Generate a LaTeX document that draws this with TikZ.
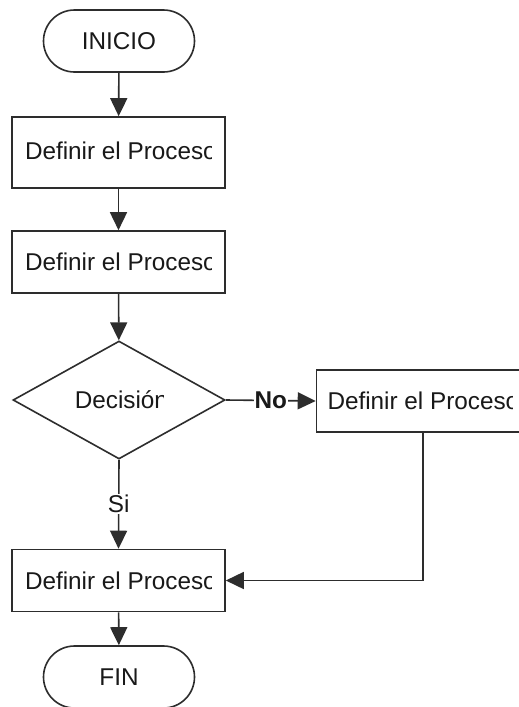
\documentclass[tikz,border=0pt]{standalone}
\usepackage{fontspec}
\setmainfont{Liberation Sans}
\usetikzlibrary{arrows.meta,shapes.geometric,shapes.misc}
\definecolor{linec}{RGB}{45,45,45}
\definecolor{txtc}{RGB}{25,25,25}
\begin{document}
\begin{tikzpicture}[x=1pt,y=-1pt,
  line width=1.6pt,
  txt/.style={font=\fontsize{24.3}{29}\selectfont, text=txtc, inner sep=0pt},
  proc/.style={draw=linec, rectangle, minimum width=213pt, minimum height=62pt, inner sep=0pt},
  term/.style={draw=linec, rounded rectangle, minimum width=151pt, minimum height=62pt, inner sep=0pt},
  dec/.style={draw=linec, diamond, aspect=1.8, minimum width=212pt, minimum height=118pt, inner sep=0pt},
  arr/.style={draw=linec, -{Triangle[length=18pt,width=17pt]}},
  lbl/.style={txt, fill=white, inner sep=1pt}
]
\clip (0,0) rectangle (519,707);
\fill[white] (0,0) rectangle (519,707);

% shapes
\node[term] (inicio) at (119,41) {};
\node[txt] (tinicio) at (inicio.center) {INICIO};
\node[proc, minimum height=71pt] (p1) at (118.5,152.5) {};
\node[proc] (p2) at (118.5,262) {};
\node[dec] (dec) at (119,400) {};
\node[proc] (p3) at (423,401) {};
\node[proc] (p4) at (118.5,580.5) {};
\node[term] (fin) at (119,677) {};
\node[txt] (tfin) at (fin.center) {FIN};

% clipped texts
\begin{scope}
  \clip ([xshift=1pt]p1.south west) rectangle ([xshift=-14pt]p1.north east);
  \node[txt, anchor=west] (t1) at ([xshift=13pt,yshift=2pt]p1.west) {Definir el Proceso};
\end{scope}
\begin{scope}
  \clip ([xshift=1pt]p2.south west) rectangle ([xshift=-14pt]p2.north east);
  \node[txt, anchor=west] (t2) at ([xshift=13pt,yshift=0pt]p2.west) {Definir el Proceso};
\end{scope}
\begin{scope}
  \clip ([xshift=1pt]p3.south west) rectangle ([xshift=-18pt]p3.north east);
  \node[txt, anchor=west] (t3) at ([xshift=11pt,yshift=0pt]p3.west) {Definir el Proceso};
\end{scope}
\begin{scope}
  \clip ([xshift=1pt]p4.south west) rectangle ([xshift=-14pt]p4.north east);
  \node[txt, anchor=west] (t4) at ([xshift=13pt,yshift=0pt]p4.west) {Definir el Proceso};
\end{scope}
\begin{scope}
  \clip ([xshift=-50pt,yshift=-25pt]dec.center) rectangle ([xshift=44pt,yshift=25pt]dec.center);
  \node[txt, anchor=west] (tdec) at ([xshift=-45pt]dec.center) {Decisión};
\end{scope}

% connectors
\draw[arr] (inicio) -- (p1);
\draw[arr] (p1) -- (p2);
\draw[arr] (p2) -- (dec);
\draw[arr] (dec.east) -- node[lbl, font=\bfseries\fontsize{24.3}{29}\selectfont] (lno) {No} (p3.west);
\draw[arr] (dec.south) -- node[lbl] (lsi) {Si} (p4.north);
\draw[arr] (p3.south) |- (p4.east);
\draw[arr] (p4) -- (fin);
\end{tikzpicture}
\end{document}
